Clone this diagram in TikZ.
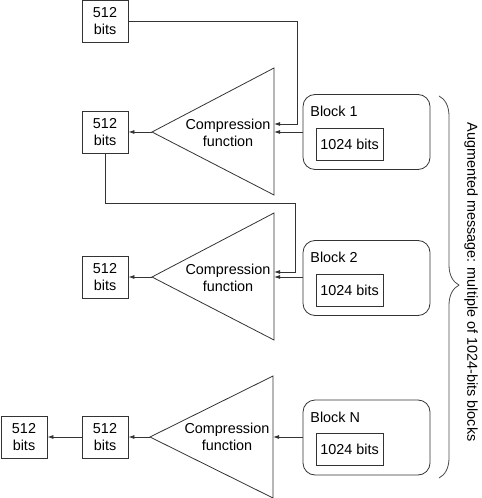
\documentclass[tikz,border=0pt]{standalone}
\usepackage{fontspec}
\setmainfont{Liberation Sans}
\usetikzlibrary{arrows.meta,decorations.pathreplacing}
\tikzset{
  hsh/.style={x=0.75pt, y=-0.75pt, font=\fontsize{10.8}{12.75}\selectfont, line width=0.6pt},
  h bits/.style={draw=black!80, align=center, minimum width=34.5pt, minimum height=31.5pt, inner sep=0pt},
  h blk/.style={draw=black!80, rounded corners=9pt, minimum width=95.25pt, minimum height=56.25pt},
  h word/.style={draw=black!80, minimum width=50.25pt, minimum height=24pt, inner sep=0pt},
  h cf/.style={draw=black!80, line join=miter},
  h txt/.style={align=center, inner sep=0pt},
  h lab/.style={anchor=west, inner sep=0pt},
  h arr/.style={draw=black!80, -{Latex[length=4.5pt, width=3pt]}},
  h brace/.style={draw=black!70, decorate, decoration={brace, amplitude=15pt, aspect=0.495}},
}
\begin{document}
\begin{tikzpicture}[hsh]
\useasboundingbox (0,0) rectangle (481,498);
% ---- initial value ----
\node[h bits] (s0) at (105,21) {512\\bits};
% ---- round 1 ----
\coordinate (c1) at (152,132); \coordinate (c1b) at (274,132); \coordinate (c1i) at (274,124);
\draw[h cf] (c1) -- (274,68) -- (274,195) -- cycle;
\node[h txt] (c1t) at (228,133) {Compression\\function};
\node[h bits] (b1) at (105,132) {512\\bits};
\node[h blk] (k1) at (366.5,132) {};
\node[h lab] (k1l) at (310,111) {Block 1};
\node[h word] (k1w) at (349.5,144) {1024 bits};
\draw[h arr] (s0.east) -- ++(169,0) |- (c1i);
\draw[h arr] (k1.west |- c1b) -- (c1b); \draw[h arr] (c1) -- (b1.east);
% ---- round 2 ----
\coordinate (c2) at (152,277); \coordinate (c2b) at (274,277); \coordinate (c2i) at (274,272);
\draw[h cf] (c2) -- (274,213) -- (274,340) -- cycle;
\node[h txt] (c2t) at (228,278) {Compression\\function};
\node[h bits] (b2) at (105,277) {512\\bits};
\node[h blk] (k2) at (366.5,278) {};
\node[h lab] (k2l) at (310,257) {Block 2};
\node[h word] (k2w) at (349.5,290) {1024 bits};
\draw[h arr] (b1.south) -- ++(0,50) -- ++(190,0) |- (c2i);
\draw[h arr] (k2.west |- c2b) -- (c2b); \draw[h arr] (c2) -- (b2.east);
% ---- round N ----
\coordinate (c3) at (150,437); \coordinate (c3b) at (273,437);
\draw[h cf] (c3) -- (273,376) -- (273,498) -- cycle;
\node[h txt] (c3t) at (227,437) {Compression\\function};
\node[h bits] (b3) at (105,437) {512\\bits};
\node[h bits] (b4) at (24,437) {512\\bits};
\node[h blk] (k3) at (366.5,437.5) {};
\node[h lab] (k3l) at (310,417) {Block N};
\node[h word] (k3w) at (349.5,449.5) {1024 bits};
\draw[h arr] (k3.west |- c3b) -- (c3b); \draw[h arr] (c3) -- (b3.east); \draw[h arr] (b3.west) -- (b4.east);
% ---- message brace ----
\coordinate (bt) at (439,96); \coordinate (bb) at (439,478);
\draw[h brace] (bt) -- (bb);
\node[rotate=-90, inner sep=0pt] (aug) at (471,282) {Augmented message: multiple of 1024-bits blocks};
\end{tikzpicture}
\end{document}
